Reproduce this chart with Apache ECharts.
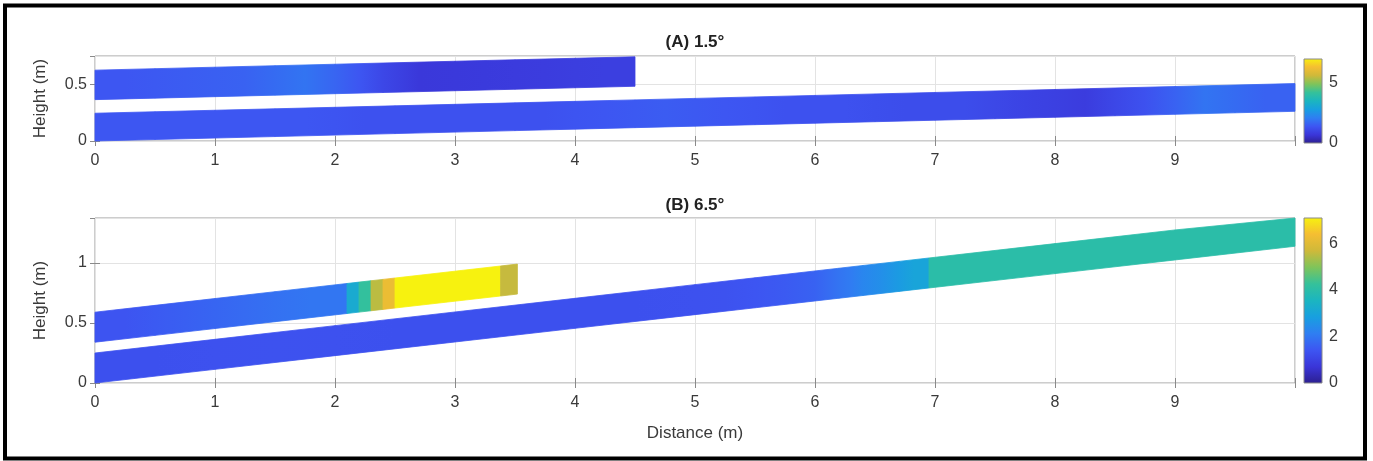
<!DOCTYPE html>
<html><head><meta charset="utf-8">
<script src="https://cdn.jsdelivr.net/npm/echarts@6/dist/echarts.min.js"></script>
<style>html,body{margin:0;padding:0;background:#fff}#c{width:1373px;height:461px}</style>
</head><body><div id="c"></div>
<script>
// ---------- data ----------
const xTickLabels = ['0','1','2','3','4','5','6','7','8','9'];
const titleA = '(A) 1.5°';
const titleB = '(B) 6.5°';
const slopeDegA = 1.5;
const slopeDegB = 6.5;

// Panel A, lower band
const aLowerEdges = [0,0.5,1,1.5,2,2.5,3,3.5,4,4.5,5,5.5,6,6.5,7,7.5,8,8.5,9,9.5,10];
const aLowerVals  = [1.4,1.4,1.4,1.4,1.3,1.3,1.3,1.3,1.4,1.5,1.4,1.3,1.3,1.2,1.2,1.0,0.85,1.3,1.9,1.6];
const aLowerBase = 0.0, aLowerThick = 0.245;
// Panel A, upper band
const aUpperEdges = [0,0.5,1,1.5,2,2.4,3,3.5,4,4.5];
const aUpperVals  = [1.4,1.5,1.6,1.9,1.4,0.75,0.8,0.85,0.9];
const aUpperBase = 0.365, aUpperThick = 0.26;

// Panel B, lower band
const bLowerEdges = [0,1,2,3,4,5,5.5,6,6.2,6.4,6.7,6.95,8,9,10];
const bLowerVals  = [1.3,1.35,1.3,1.3,1.3,1.35,1.5,1.8,2.1,2.5,3.0,4.0,4.0,4.0];
const bLowerBase = 0.0, bLowerThick = 0.25;
// Panel B, upper band
const bUpperEdges = [0,0.5,1,1.5,2.1,2.2,2.3,2.4,2.5,3.38,3.52];
const bUpperVals  = [1.4,1.6,1.8,2.0,3.2,4.2,5.5,6.2,7.1,5.6];
const bUpperBase = 0.34, bUpperThick = 0.25;

// colour bars
const cbMaxA = 6.9, cbStepA = 5;
const cbMaxB = 7.1, cbStepB = 2;

// ---------- colormap ----------
const cmapStops = [
  [0.00,[44,31,143]],[0.10,[58,53,216]],[0.20,[61,85,242]],[0.30,[47,126,242]],
  [0.40,[24,159,224]],[0.50,[27,181,192]],[0.60,[53,193,154]],[0.70,[127,196,90]],
  [0.80,[207,185,58]],[0.90,[245,190,50]],[1.00,[247,242,15]]
];
function cmap(t){
  t = Math.max(0, Math.min(1, t));
  for (let i=1;i<cmapStops.length;i++){
    if (t <= cmapStops[i][0]){
      const a = cmapStops[i-1], b = cmapStops[i];
      const f = (t-a[0])/(b[0]-a[0]);
      const c = a[1].map((v,k)=>Math.round(v+(b[1][k]-v)*f));
      return 'rgb('+c.join(',')+')';
    }
  }
  return 'rgb(247,242,15)';
}

const FONT = "'Liberation Sans', Arial, Helvetica, sans-serif";
const TXT = '#3a3a3a';

function blendable(a, b){ return Math.abs(a-b) < 0.8 && a < 3.5 && b < 3.5; }

function bandSeries(ax, edges, vals, base, thick, deg, cmax){
  const t = Math.tan(deg*Math.PI/180);
  const data = vals.map((v,i)=>[edges[i], edges[i+1], v]);
  return {
    type:'custom', xAxisIndex:ax, yAxisIndex:ax, data: data,
    encode:{x:[0,1]},
    renderItem:function(params, api){
      const i = params.dataIndex;
      const x0 = api.value(0), x1 = api.value(1), v = api.value(2);
      const cs = params.coordSys;
      const pts = [[x0, base+t*x0],[x1, base+t*x1],[x1, base+t*x1+thick],[x0, base+t*x0+thick]]
        .map(p=>{const c = api.coord(p); c[1] = Math.max(cs.y, Math.min(cs.y+cs.height, c[1])); return c;});
      const prev = i>0 ? data[i-1][2] : v;
      const next = i<data.length-1 ? data[i+1][2] : v;
      const vl = blendable(prev, v) ? (prev+v)/2 : v;
      const vr = blendable(next, v) ? (next+v)/2 : v;
      const fill = new echarts.graphic.LinearGradient(pts[0][0], 0, pts[1][0], 0, [
        {offset:0, color:cmap(vl/cmax)}, {offset:0.5, color:cmap(v/cmax)}, {offset:1, color:cmap(vr/cmax)}
      ], true);
      return {type:'polygon', shape:{points:pts}, style:{fill:fill, stroke:fill, lineWidth:0.8}};
    }
  };
}

function cbSeries(ax, cmax){
  return {
    type:'custom', xAxisIndex:ax, yAxisIndex:ax, data:[[0, cmax]],
    encode:{y:[0,1]},
    renderItem:function(params, api){
      const p0 = api.coord([0, api.value(0)]);
      const p1 = api.coord([1, api.value(1)]);
      return {type:'rect', shape:{x:p0[0], y:p1[1], width:p1[0]-p0[0], height:p0[1]-p1[1]},
        style:{fill:new echarts.graphic.LinearGradient(0,1,0,0,
          cmapStops.map(s=>({offset:s[0], color:'rgb('+s[1].join(',')+')'}))),
          stroke:'#8a8a8a', lineWidth:1}};
    }
  };
}

const gridLine = {show:true, lineStyle:{color:'#e3e3e3', width:1}};
const tickStyle = {show:true, inside:true, length:5, lineStyle:{color:'#8a8a8a'}};
const lbl = {color:TXT, fontSize:16, fontFamily:FONT};

function xAxes(gi, withName){
  return [
    {type:'value', gridIndex:gi, min:0, max:10, interval:1, position:'bottom',
     axisLine:{show:false}, axisTick:tickStyle, splitLine:gridLine,
     axisLabel:Object.assign({margin:12, formatter:v=> (v<10? xTickLabels[v] : '')}, lbl),
     name: withName? 'Distance (m)':'', nameLocation:'middle', nameGap:42,
     nameTextStyle:{color:TXT, fontSize:17, fontFamily:FONT}},
    {type:'value', gridIndex:gi, min:0, max:10, interval:1, position:'top',
     axisLine:{show:false}, axisTick:tickStyle, splitLine:{show:false}, axisLabel:{show:false}}
  ];
}
function yAxes(gi, ymax){
  return [
    {type:'value', gridIndex:gi, min:0, max:ymax, interval:0.5, position:'left',
     axisLine:{show:false}, axisTick:tickStyle, splitLine:gridLine,
     axisLabel:Object.assign({margin:8, showMaxLabel:false}, lbl),
     name:'Height (m)', nameLocation:'middle', nameGap:46,
     nameTextStyle:{color:TXT, fontSize:17, fontFamily:FONT}},
    {type:'value', gridIndex:gi, min:0, max:ymax, interval:0.5, position:'right',
     axisLine:{show:false}, axisTick:tickStyle, splitLine:{show:false}, axisLabel:{show:false}}
  ];
}

const chart = echarts.init(document.getElementById('c'), null, {renderer:'canvas'});
const option = {
  backgroundColor:'#fff',
  animation:false,
  grid:[
    {left:95, top:56, width:1200, height:85, show:true, borderColor:'#9a9a9a', borderWidth:1, backgroundColor:'transparent'},
    {left:95, top:218, width:1200, height:165, show:true, borderColor:'#9a9a9a', borderWidth:1, backgroundColor:'transparent'},
    {left:1304, top:59, width:18, height:84},
    {left:1304, top:218, width:18, height:165}
  ],
  xAxis:[].concat(xAxes(0,false), xAxes(1,true),
    [{type:'value', gridIndex:2, min:0, max:1, show:false},
     {type:'value', gridIndex:3, min:0, max:1, show:false}]),
  yAxis:[].concat(yAxes(0,0.75), yAxes(1,1.375),
    [{type:'value', gridIndex:2, min:0, max:cbMaxA, interval:cbStepA, position:'right',
      axisLine:{show:false}, axisTick:{show:false}, splitLine:{show:false},
      axisLabel:Object.assign({margin:7, showMaxLabel:false}, lbl)},
     {type:'value', gridIndex:3, min:0, max:cbMaxB, interval:cbStepB, position:'right',
      axisLine:{show:false}, axisTick:{show:false}, splitLine:{show:false},
      axisLabel:Object.assign({margin:7, showMaxLabel:false}, lbl)}]),
  series:[
    bandSeries(0, aLowerEdges, aLowerVals, aLowerBase, aLowerThick, slopeDegA, cbMaxA),
    bandSeries(0, aUpperEdges, aUpperVals, aUpperBase, aUpperThick, slopeDegA, cbMaxA),
    bandSeries(2, bLowerEdges, bLowerVals, bLowerBase, bLowerThick, slopeDegB, cbMaxB),
    bandSeries(2, bUpperEdges, bUpperVals, bUpperBase, bUpperThick, slopeDegB, cbMaxB),
    cbSeries(4, cbMaxA),
    cbSeries(5, cbMaxB)
  ],
  graphic:[
    {type:'rect', shape:{x:5, y:5.5, width:1360, height:453}, style:{fill:'none', stroke:'#000', lineWidth:4}, silent:true, z:100},
    {type:'text', x:695, y:42, style:{text:titleA, fill:'#222', font:'bold 17px '+FONT, textAlign:'center', textVerticalAlign:'middle'}},
    {type:'text', x:695, y:205, style:{text:titleB, fill:'#222', font:'bold 17px '+FONT, textAlign:'center', textVerticalAlign:'middle'}}
  ]
};
chart.setOption(option);
</script></body></html>
